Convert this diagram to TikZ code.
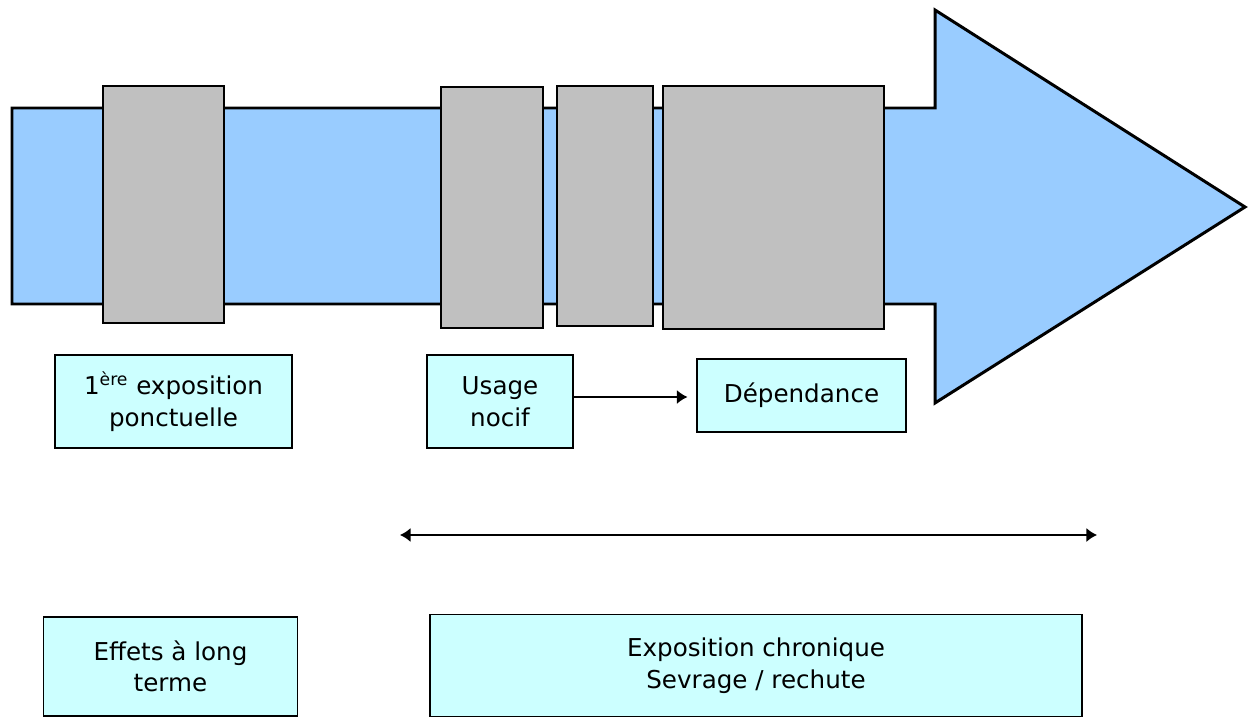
\documentclass[tikz,border=0pt]{standalone}
\usepackage{fontspec}
\setmainfont{DejaVu Sans}
\usetikzlibrary{positioning,arrows.meta}

\definecolor{shaftblue}{HTML}{99CCFF}
\definecolor{bandgray}{HTML}{C0C0C0}
\definecolor{stagecyan}{HTML}{CCFFFF}

\tikzset{
  band/.style={fill=bandgray, draw=black, line width=0.9pt},
  stage/.style={draw=black, fill=stagecyan, line width=0.9pt, align=center,
    inner sep=2pt, font=\fontsize{14}{18}\selectfont},
}

\begin{document}
\begin{tikzpicture}[>={Latex[length=6pt,width=8pt]}, x=0.02cm, y=-0.02cm]
    \useasboundingbox (0,0) rectangle (1251,720);

        % big arrow
        \draw[fill=shaftblue, line width=1.7pt, line join=miter]
            (12,108) -- (935,108) -- (935,10) -- (1245,207) -- (935,403)
            -- (935,304) -- (12,304) -- cycle;

        % bands on the arrow
        \draw[band] (103,86) rectangle (224,323);
        \draw[band] (441,87) rectangle (543,328);
        \draw[band] (557,86) rectangle (653,326);
        \draw[band] (663,86) rectangle (884,329);

        % stages
        \node[stage, minimum width=4.74cm, minimum height=1.86cm] (premiere) at (173.5,401.5) {1\textsuperscript{ère} exposition\\ponctuelle};
        \node[stage, minimum width=2.92cm, minimum height=1.86cm] (usage) at (500,401.5) {Usage\\nocif};
        \node[stage, minimum width=4.18cm, minimum height=1.46cm] (dep) at (801.5,395.5) {Dépendance};
        \draw[->, line width=0.9pt, shorten >=5pt] (usage.east |- 0,397) -- (dep.west |- 0,397);

        % time span
        \coordinate (spanL) at (400,535);
        \coordinate (spanR) at (1097,535);
        \draw[<->, line width=0.9pt] (spanL) -- (spanR);

        % outcomes
        \node[stage, minimum width=5.08cm, minimum height=1.98cm] (effets) at (170.5,666.5) {Effets à long\\terme};
        \node[stage, minimum width=13.04cm, minimum height=2.04cm] (chron) at (756,665.5) {Exposition chronique\\Sevrage / rechute};

\end{tikzpicture}
\end{document}
